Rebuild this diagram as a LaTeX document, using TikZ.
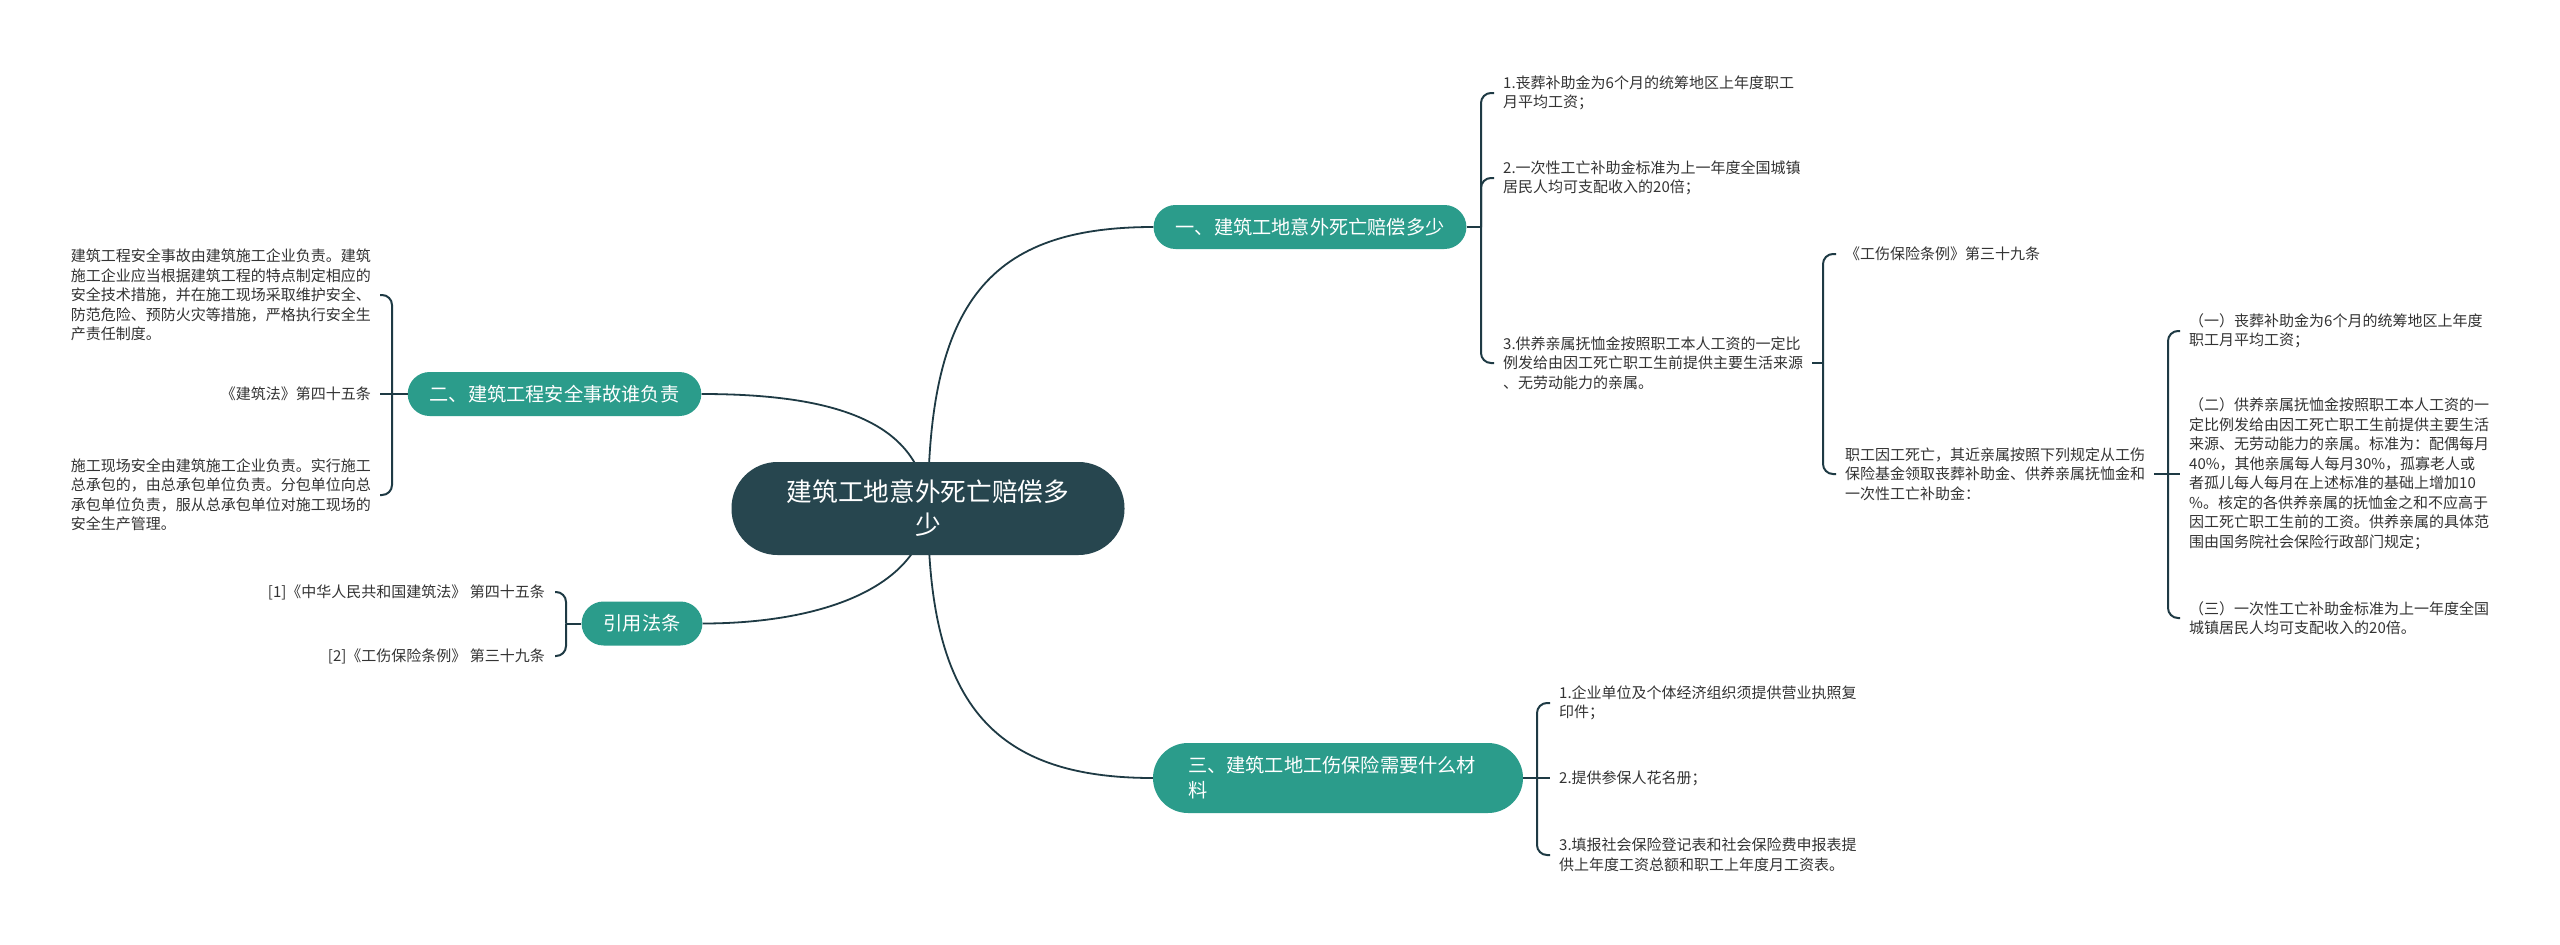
\documentclass[tikz,border=0pt]{standalone}
\usepackage{fontspec}
\newfontfamily\cjk{Noto Sans CJK SC}
\usetikzlibrary{backgrounds}
\definecolor{teal1}{HTML}{2B9C8B}
\definecolor{dark1}{HTML}{27464F}
\definecolor{line1}{HTML}{1E3A44}
\definecolor{txt1}{HTML}{333333}
\begin{document}
\begin{tikzpicture}[x=1pt,y=-1pt,
  conn/.style={draw=line1, line width=2pt},
  curve/.style={draw=line1, line width=1.8pt},
  hook/.style={conn, rounded corners=10pt},
  leaf/.style={font=\cjk\fontsize{15pt}{19.5pt}\selectfont, text=txt1, inner xsep=9pt, inner ysep=0pt, align=left},
  leafr/.style={leaf, anchor=west},
  leafl/.style={leaf, anchor=east},
  branch/.style={fill=teal1, text=white, font=\cjk\fontsize{19.2pt}{25pt}\selectfont, rounded corners=22pt, minimum height=44pt, inner xsep=22pt, inner ysep=0pt},
  root/.style={fill=dark1, text=white, font=\cjk\fontsize{25.7pt}{33pt}\selectfont, rounded corners=46pt, minimum width=393pt, minimum height=93pt, align=center, inner sep=0pt}
]
\useasboundingbox (0,0) rectangle (2560,945);

% main nodes
\node[root] (c) at (928,508.5) {建筑工地意外死亡赔偿多\\少};
\node[branch] (b1) at (1310,227) {一、建筑工地意外死亡赔偿多少};
\node[branch] (b2) at (554.5,394) {二、建筑工程安全事故谁负责};
\node[branch] (b3) at (642,623.5) {引用法条};
\node[branch, rounded corners=35pt, minimum height=70pt, inner xsep=35pt, text width=300pt, align=left] (b4) at (1338,778) {三、建筑工地工伤保险需要什么材\\料};

% branch 1 leaves
\node[leafr] (l1a) at (1494,93) {1.丧葬补助金为6个月的统筹地区上年度职工\\月平均工资；};
\node[leafr] (l1b) at (1494,178) {2.一次性工亡补助金标准为上一年度全国城镇\\居民人均可支配收入的20倍；};
\node[leafr] (l1c) at (1494,363) {3.供养亲属抚恤金按照职工本人工资的一定比\\例发给由因工死亡职工生前提供主要生活来源\\、无劳动能力的亲属。};
\node[leafr] (l2a) at (1836,254) {《工伤保险条例》第三十九条};
\node[leafr] (l2b) at (1836,474) {职工因工死亡，其近亲属按照下列规定从工伤\\保险基金领取丧葬补助金、供养亲属抚恤金和\\一次性工亡补助金：};
\node[leafr] (l3a) at (2180,331) {（一）丧葬补助金为6个月的统筹地区上年度\\职工月平均工资；};
\node[leafr] (l3b) at (2180,474) {（二）供养亲属抚恤金按照职工本人工资的一\\定比例发给由因工死亡职工生前提供主要生活\\来源、无劳动能力的亲属。标准为：配偶每月\\40\%，其他亲属每人每月30\%，孤寡老人或\\者孤儿每人每月在上述标准的基础上增加10\\\%。核定的各供养亲属的抚恤金之和不应高于\\因工死亡职工生前的工资。供养亲属的具体范\\围由国务院社会保险行政部门规定；};
\node[leafr] (l3c) at (2180,618) {（三）一次性工亡补助金标准为上一年度全国\\城镇居民人均可支配收入的20倍。};

% branch 2 leaves
\node[leafl] (l4a) at (380,295) {建筑工程安全事故由建筑施工企业负责。建筑\\施工企业应当根据建筑工程的特点制定相应的\\安全技术措施，并在施工现场采取维护安全、\\防范危险、预防火灾等措施，严格执行安全生\\产责任制度。};
\node[leafl] (l4b) at (380,394) {《建筑法》第四十五条};
\node[leafl] (l4c) at (380,495) {施工现场安全由建筑施工企业负责。实行施工\\总承包的，由总承包单位负责。分包单位向总\\承包单位负责，服从总承包单位对施工现场的\\安全生产管理。};

% branch 3 leaves
\node[leafl, inner xsep=10pt] (l5a) at (555,592) {[1]《中华人民共和国建筑法》 第四十五条};
\node[leafl, inner xsep=10pt] (l5b) at (555,656) {[2]《工伤保险条例》 第三十九条};

% branch 4 leaves
\node[leafr] (l6a) at (1550,703) {1.企业单位及个体经济组织须提供营业执照复\\印件；};
\node[leafr] (l6b) at (1550,778) {2.提供参保人花名册；};
\node[leafr] (l6c) at (1550,855) {3.填报社会保险登记表和社会保险费申报表提\\供上年度工资总额和职工上年度月工资表。};

% trunk coordinates
\coordinate (t1) at (1481,227);
\coordinate (t2) at (392,394);
\coordinate (t3) at (566,623.5);
\coordinate (t4) at (1537,778);
\coordinate (t5) at (1823,363);
\coordinate (t6) at (2168,474);

% bracket connectors
\draw[conn] (b1.east) -- (t1);
\draw[hook] (t1) |- (l1a.west);
\draw[hook] (t1) |- (l1b.west);
\draw[hook] (t1) |- (l1c.west);

\draw[conn] (l1c.east) -- (t5);
\draw[hook] (t5) |- (l2a.west);
\draw[hook] (t5) |- (l2b.west);

\draw[conn] (l2b.east) -- (t6);
\draw[hook] (t6) |- (l3a.west);
\draw[conn] (t6) -- (l3b.west);
\draw[hook] (t6) |- (l3c.west);

\draw[conn] (b2.west) -- (t2);
\draw[hook] (t2) |- (l4a.east);
\draw[conn] (t2) -- (l4b.east);
\draw[hook] (t2) |- (l4c.east);

\draw[conn] (b3.west) -- (t3);
\draw[hook] (t3) |- (l5a.east);
\draw[hook] (t3) |- (l5b.east);

\draw[conn] (b4.east) -- (t4);
\draw[hook] (t4) |- (l6a.west);
\draw[conn] (t4) -- (l6b.west);
\draw[hook] (t4) |- (l6c.west);

% curved connectors from the root
\begin{scope}[on background layer]
\fill[white] (0,0) rectangle (2560,945);
\draw[curve] (c.center) .. controls +(0,-208) and +(-163,0) .. (b1.west);
\draw[curve] (c.center) .. controls +(-6,-80) and +(148,0) .. (b2.east);
\draw[curve] (c.center) .. controls +(-6,80) and +(117,0) .. (b3.east);
\draw[curve] (c.center) .. controls +(0,192) and +(-163,0) .. (b4.west);
\end{scope}
\end{tikzpicture}
\end{document}
